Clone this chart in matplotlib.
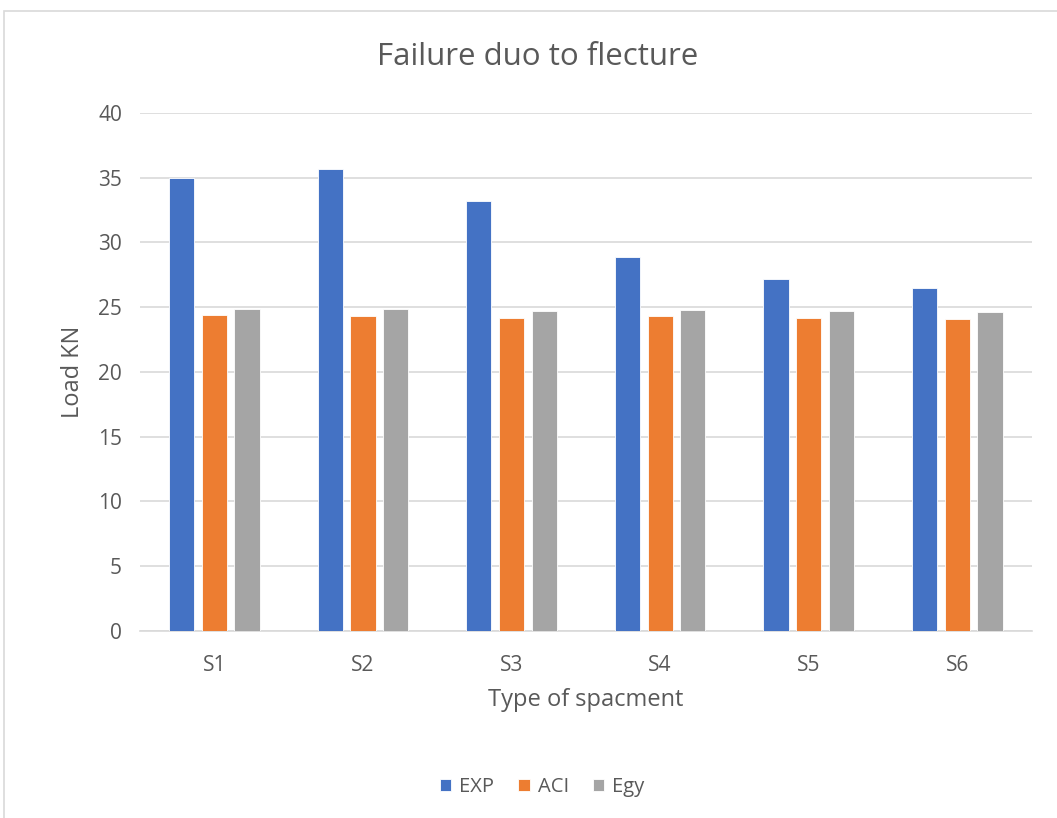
import matplotlib.pyplot as plt
import matplotlib.patches as patches
import numpy as np

plt.rcParams['font.family'] = ['Open Sans', 'DejaVu Sans']

categories = ['S1', 'S2', 'S3', 'S4', 'S5', 'S6']
exp_vals = [35.0, 35.7, 33.2, 28.9, 27.2, 26.5]
aci_vals = [24.4, 24.3, 24.2, 24.3, 24.2, 24.1]
egy_vals = [24.9, 24.9, 24.7, 24.8, 24.7, 24.6]

series = [('EXP', exp_vals, '#4472C4'),
          ('ACI', aci_vals, '#ED7D31'),
          ('Egy', egy_vals, '#A5A5A5')]

text_col = '#595959'

fig = plt.figure(figsize=(10.57, 8.18), dpi=100)
ax = fig.add_axes([0.1325, 0.2286, 0.8435, 0.6333])

# chart area border
fig.patches.append(patches.Rectangle((4 / 1057, -0.01), 1.02, 1 - 11 / 818 + 0.01,
                                     transform=fig.transFigure, fill=False,
                                     edgecolor='#D9D9D9', linewidth=1.2))

x = np.arange(len(categories))
w = 0.17
offsets = [-0.22, 0.0, 0.22]
for (name, vals, col), off in zip(series, offsets):
    ax.bar(x + off, vals, width=w, color=col, label=name,
           edgecolor='white', linewidth=0.6, zorder=3)

ax.set_xlim(-0.5, 5.5)
ax.set_ylim(0, 40)
ax.set_yticks(range(0, 41, 5))
ax.set_xticks(x)
ax.set_xticklabels(categories)
ax.grid(axis='y', color='#D9D9D9', linewidth=1.2, zorder=0)
for s in ['top', 'right', 'left']:
    ax.spines[s].set_visible(False)
ax.spines['bottom'].set_color('#D9D9D9')
ax.spines['bottom'].set_linewidth(1.2)
ax.tick_params(axis='both', length=0, labelsize=15, colors=text_col)
ax.tick_params(axis='x', pad=17)
ax.tick_params(axis='y', pad=13)

ax.set_xlabel('Type of spacment', fontsize=17, color=text_col, labelpad=9)
ax.set_ylabel('Load KN', fontsize=17, color=text_col, labelpad=9)
fig.text(0.509, 1 - 57 / 818, 'Failure duo to flecture', fontsize=22.5,
         color=text_col, ha='center', va='center')

fig.legend(loc='center', bbox_to_anchor=(0.513, 1 - 787 / 818), ncol=3,
           frameon=False, fontsize=14.5, handlelength=0.55, handleheight=0.55,
           handletextpad=0.4, columnspacing=1.2, labelcolor=text_col)

fig.savefig('out.png', dpi=100, facecolor='white')
